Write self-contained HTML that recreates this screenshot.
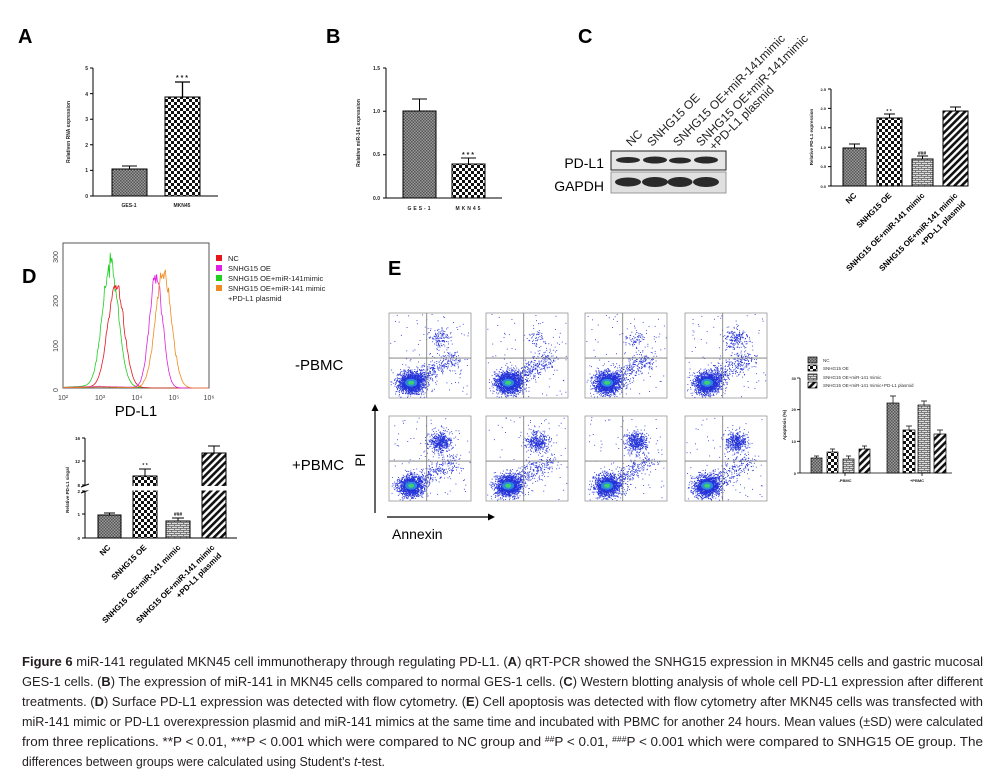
<!DOCTYPE html>
<html><head><meta charset="utf-8">
<style>
html,body{margin:0;padding:0;background:#fff;}
svg{display:block;}
text{font-family:"Liberation Sans",Arial,sans-serif;}
.cap{font-size:12.5px;fill:#231f20;}
.t{font-size:5px;font-weight:bold;fill:#222;}
.lab{font-size:20px;font-weight:bold;}
</style></head><body>
<svg id="s" width="1005" height="778" viewBox="0 0 1005 778" xmlns="http://www.w3.org/2000/svg">
<defs>
<pattern id="pg" width="3" height="3" patternUnits="userSpaceOnUse"><rect width="3" height="3" fill="#9a9a9a"/><rect width="1.5" height="1.5" fill="#555"/><rect x="1.5" y="1.5" width="1.5" height="1.5" fill="#555"/></pattern>
<pattern id="pc" width="6" height="6" patternUnits="userSpaceOnUse"><rect width="6" height="6" fill="#fff"/><rect width="3" height="3" fill="#111"/><rect x="3" y="3" width="3" height="3" fill="#111"/></pattern>
<pattern id="pb" width="6" height="4" patternUnits="userSpaceOnUse"><rect width="6" height="4" fill="#ddd"/><line x1="0" y1="0.5" x2="6" y2="0.5" stroke="#666" stroke-width="0.8"/><line x1="0.5" y1="0" x2="0.5" y2="2" stroke="#666" stroke-width="0.8"/><line x1="3.5" y1="2" x2="3.5" y2="4" stroke="#666" stroke-width="0.8"/><line x1="0" y1="2.5" x2="6" y2="2.5" stroke="#666" stroke-width="0.8"/></pattern>
<pattern id="pd" width="5" height="5" patternUnits="userSpaceOnUse" patternTransform="rotate(45)"><rect width="5" height="5" fill="#fff"/><rect width="2.6" height="5" fill="#111"/></pattern>
</defs>

<!-- A -->
<text x="18" y="43" class="lab">A</text>
<g stroke="#000" stroke-width="1" fill="none">
<line x1="93" y1="68" x2="93" y2="196"/><line x1="93" y1="196" x2="218" y2="196"/>
<path d="M90 68H93M90 93.6H93M90 119.2H93M90 144.8H93M90 170.4H93M90 196H93"/>
</g>
<g class="t" text-anchor="end"><text x="88" y="70">5</text><text x="88" y="96">4</text><text x="88" y="121">3</text><text x="88" y="147">2</text><text x="88" y="172">1</text><text x="88" y="198">0</text></g>
<text class="t" transform="translate(70,132) rotate(-90)" text-anchor="middle">Relativen RNA expression</text>
<rect x="112" y="169" width="35" height="27" fill="url(#pg)" stroke="#000"/>
<path d="M129.5 169V166M122 166H137" stroke="#000"/>
<rect x="165" y="97" width="35" height="99" fill="url(#pc)" stroke="#000"/>
<path d="M182.5 97V82M175 82H190" stroke="#000" stroke-width="1.3"/>
<text x="182" y="80" class="t" text-anchor="middle" style="font-size:7px">* * *</text>
<text x="129" y="207" class="t" text-anchor="middle">GES-1</text><text x="182" y="207" class="t" text-anchor="middle">MKN45</text>

<!-- B -->
<text x="326" y="43" class="lab">B</text>
<g stroke="#000" fill="none"><line x1="386" y1="68" x2="386" y2="198"/><line x1="386" y1="198" x2="502" y2="198"/>
<path d="M383 68H386M383 111.3H386M383 154.7H386M383 198H386"/></g>
<g class="t" text-anchor="end"><text x="380" y="70">1.5</text><text x="380" y="113">1.0</text><text x="380" y="156">0.5</text><text x="380" y="200">0.0</text></g>
<text class="t" transform="translate(360,133) rotate(-90)" text-anchor="middle">Relative miR-141 expression</text>
<rect x="403" y="111" width="33" height="87" fill="url(#pg)" stroke="#000"/>
<path d="M419.5 111V99M412 99H427" stroke="#000"/>
<rect x="452" y="164" width="33" height="34" fill="url(#pc)" stroke="#000"/>
<path d="M468.5 164V158M461 158H476" stroke="#000"/>
<text x="468" y="157" class="t" text-anchor="middle" style="font-size:7px">* * *</text>
<text x="420" y="210" class="t" text-anchor="middle" letter-spacing="2">GES-1</text><text x="469" y="210" class="t" text-anchor="middle" letter-spacing="2">MKN45</text>

<!-- C -->
<text x="578" y="43" class="lab">C</text>
<g font-size="12" fill="#222">
<text transform="translate(631,147) rotate(-45)">NC</text>
<text transform="translate(652,147) rotate(-45)">SNHG15 OE</text>
<text transform="translate(678,147) rotate(-45)">SNHG15 OE+miR-141mimic</text>
<text transform="translate(701,147) rotate(-45)">SNHG15 OE+miR-141mimic</text>
<text transform="translate(714,151) rotate(-45)">+PD-L1 plasmid</text>
</g>
<text x="604" y="168" font-size="14" text-anchor="end">PD-L1</text>
<text x="604" y="191" font-size="14" text-anchor="end">GAPDH</text>
<rect x="611" y="151" width="115" height="19" fill="#e6e6e6" stroke="#222"/>
<rect x="611" y="172" width="115" height="21" fill="#e0e0e0" stroke="#999"/>
<g fill="#2a2a2a"><ellipse cx="628" cy="160" rx="12" ry="3"/><ellipse cx="655" cy="160" rx="12" ry="3.5"/><ellipse cx="680" cy="160.5" rx="11" ry="3"/><ellipse cx="706" cy="160" rx="12" ry="3.5"/>
<ellipse cx="628" cy="182" rx="13" ry="4.5"/><ellipse cx="655" cy="182" rx="13" ry="5"/><ellipse cx="680" cy="182" rx="12.5" ry="5"/><ellipse cx="706" cy="182" rx="13" ry="5"/></g>
<g stroke="#000" fill="none"><line x1="831" y1="89" x2="831" y2="186"/><line x1="831" y1="186" x2="968" y2="186"/>
<path d="M828 89H831M828 108.4H831M828 127.8H831M828 147.2H831M828 166.6H831M828 186H831"/></g>
<g class="t" text-anchor="end" style="font-size:4px"><text x="826" y="91">2.5</text><text x="826" y="110">2.0</text><text x="826" y="129">1.5</text><text x="826" y="149">1.0</text><text x="826" y="168">0.5</text><text x="826" y="188">0.0</text></g>
<text class="t" transform="translate(813,137) rotate(-90)" text-anchor="middle" style="font-size:4.5px">Relative PD-L1 expression</text>
<rect x="843" y="148" width="23" height="38" fill="url(#pg)" stroke="#000"/><path d="M854.5 148V144M849 144H860" stroke="#000"/>
<rect x="877" y="118" width="25" height="68" fill="url(#pc)" stroke="#000"/><path d="M889.5 118V114M884 114H895" stroke="#000"/>
<text x="889" y="113" class="t" text-anchor="middle">* *</text>
<rect x="912" y="159" width="21" height="27" fill="url(#pb)" stroke="#000"/><path d="M922.5 159V156M917 156H928" stroke="#000"/>
<text x="922" y="155" class="t" text-anchor="middle">###</text>
<rect x="943" y="111" width="25" height="75" fill="url(#pd)" stroke="#000"/><path d="M955.5 111V107M950 107H961" stroke="#000"/>
<g font-size="8" font-weight="bold" text-anchor="end">
<text transform="translate(857,196) rotate(-45)">NC</text>
<text transform="translate(892,196) rotate(-45)">SNHG15 OE</text>
<text transform="translate(925,196) rotate(-45)">SNHG15 OE+miR-141 mimic</text>
<text transform="translate(958,196) rotate(-45)">SNHG15 OE+miR-141 mimic</text>
<text transform="translate(966,204) rotate(-45)">+PD-L1 plasmid</text>
</g>

<!-- D -->
<text x="22" y="283" class="lab">D</text>
<rect x="63" y="243" width="146" height="145" fill="none" stroke="#555"/>
<g id="hist"></g>
<g font-size="7" fill="#444">
<text transform="translate(58,257) rotate(-90)" text-anchor="middle">300</text>
<text transform="translate(58,301) rotate(-90)" text-anchor="middle">200</text>
<text transform="translate(58,346) rotate(-90)" text-anchor="middle">100</text>
<text transform="translate(58,390) rotate(-90)" text-anchor="middle">0</text>
<text x="63" y="400" text-anchor="middle">10²</text><text x="100" y="400" text-anchor="middle">10³</text><text x="137" y="400" text-anchor="middle">10⁴</text><text x="174" y="400" text-anchor="middle">10⁵</text><text x="209" y="400" text-anchor="middle">10⁶</text>
</g>
<text x="136" y="416" font-size="15" text-anchor="middle">PD-L1</text>
<rect x="216" y="255" width="6" height="6" fill="#e8141b"/><rect x="216" y="265" width="6" height="6" fill="#e020e0"/><rect x="216" y="275" width="6" height="6" fill="#20d020"/><rect x="216" y="285" width="6" height="6" fill="#f08a20"/>
<g font-size="7.5" fill="#222"><text x="228" y="261">NC</text><text x="228" y="271">SNHG15 OE</text><text x="228" y="281">SNHG15 OE+miR-141mimic</text><text x="228" y="291">SNHG15 OE+miR-141 mimic</text><text x="228" y="301">+PD-L1 plasmid</text></g>

<g stroke="#000" fill="none"><line x1="85" y1="438" x2="85" y2="485"/><line x1="85" y1="491" x2="85" y2="538"/><line x1="85" y1="538" x2="237" y2="538"/>
<path d="M82 438H85M82 461H85M82 485H85M82 491H85M82 514H85M82 538H85M81 487L89 484M81 493L89 490"/></g>
<g class="t" text-anchor="end" style="font-size:4.5px"><text x="80" y="440">16</text><text x="80" y="463">12</text><text x="80" y="487">8</text><text x="80" y="493">2</text><text x="80" y="516">1</text><text x="80" y="540">0</text></g>
<text class="t" transform="translate(69,490) rotate(-90)" text-anchor="middle" style="font-size:4.5px">Relative PD-L1 singal</text>
<rect x="98" y="515" width="23" height="23" fill="url(#pg)" stroke="#000"/><path d="M109.5 515V513M104 513H115" stroke="#000"/>
<rect x="133" y="476" width="24" height="62" fill="url(#pc)" stroke="#000"/><path d="M145 476V469M139 469H151" stroke="#000"/><text x="145" y="467" class="t" text-anchor="middle">* *</text>
<rect x="166" y="521" width="24" height="17" fill="url(#pb)" stroke="#000"/><path d="M178 521V518M172 518H184" stroke="#000"/><text x="178" y="516" class="t" text-anchor="middle">###</text>
<rect x="202" y="453" width="24" height="85" fill="url(#pd)" stroke="#000"/><path d="M214 453V446M208 446H220" stroke="#000"/>
<rect x="86" y="486" width="150" height="4.5" fill="#fff"/>
<g font-size="8" font-weight="bold" text-anchor="end">
<text transform="translate(111,548) rotate(-45)">NC</text>
<text transform="translate(147,548) rotate(-45)">SNHG15 OE</text>
<text transform="translate(181,548) rotate(-45)">SNHG15 OE+miR-141 mimic</text>
<text transform="translate(215,548) rotate(-45)">SNHG15 OE+miR-141 mimic</text>
<text transform="translate(222,556) rotate(-45)">+PD-L1 plasmid</text>
</g>

<text x="295" y="370" font-size="15">-PBMC</text>
<text x="292" y="470" font-size="15">+PBMC</text>

<!-- E -->
<text x="388" y="275" class="lab">E</text>
<g id="flow"></g>
<path d="M375 513V410" stroke="#000" stroke-width="1.2"/><path d="M371.5 411L375 404L378.5 411Z"/>
<path d="M387 517H489" stroke="#000" stroke-width="1.2"/><path d="M488 513.5L495 517L488 520.5Z"/>
<text transform="translate(365,460) rotate(-90)" font-size="14" text-anchor="middle">PI</text>
<text x="392" y="539" font-size="14">Annexin</text>

<g stroke="#000" fill="none" stroke-width="0.8"><line x1="800" y1="378" x2="800" y2="473"/><line x1="800" y1="473" x2="952" y2="473"/>
<path d="M797 378H800M797 409.7H800M797 441.3H800M797 473H800M845 473V476M922 473V476"/></g>
<g class="t" text-anchor="end" style="font-size:4px"><text x="796" y="380">30</text><text x="796" y="411">20</text><text x="796" y="443">10</text><text x="796" y="475">0</text></g>
<text class="t" transform="translate(786,425) rotate(-90)" text-anchor="middle" style="font-size:4.5px">Apoptosis (%)</text>
<g stroke="#000" stroke-width="0.7">
<rect x="811" y="458" width="11" height="15" fill="url(#pg)"/><path d="M816.5 458V456M814 456H819"/>
<rect x="827" y="452" width="11" height="21" fill="url(#pc)"/><path d="M832.5 452V449M830 449H835"/>
<rect x="843" y="459" width="11" height="14" fill="url(#pb)"/><path d="M848.5 459V456M846 456H851"/>
<rect x="859" y="449" width="11" height="24" fill="url(#pd)"/><path d="M864.5 449V446M862 446H867"/>
<rect x="887" y="403" width="12" height="70" fill="url(#pg)"/><path d="M893 403V396M890 396H896"/>
<rect x="903" y="430" width="12" height="43" fill="url(#pc)"/><path d="M909 430V426M906 426H912"/>
<rect x="918" y="405" width="12" height="68" fill="url(#pb)"/><path d="M924 405V401M921 401H927"/>
<rect x="934" y="434" width="12" height="39" fill="url(#pd)"/><path d="M940 434V430M937 430H943"/>
<rect x="808" y="357" width="9" height="6" fill="url(#pg)"/><rect x="808" y="365" width="9" height="6" fill="url(#pc)"/><rect x="808" y="374" width="9" height="6" fill="url(#pb)"/><rect x="808" y="382" width="9" height="6" fill="url(#pd)"/>
</g>
<g font-size="4.5" fill="#333"><text x="823" y="362">NC</text><text x="823" y="370">SNHG15 OE</text><text x="823" y="379">SNHG15 OE+miR-141 mimic</text><text x="823" y="387">SNHG15 OE+miR-141 mimic+PD-L1 plasmid</text></g>
<text x="845" y="482" class="t" text-anchor="middle" style="font-size:4px">-PBMC</text><text x="917" y="482" class="t" text-anchor="middle" style="font-size:4px">+PBMC</text>

<!-- Caption -->
<g class="cap">
<text x="22" y="666" textLength="961" lengthAdjust="spacingAndGlyphs"><tspan font-weight="bold">Figure 6</tspan> miR-141 regulated MKN45 cell immunotherapy through regulating PD-L1. (<tspan font-weight="bold">A</tspan>) qRT-PCR showed the SNHG15 expression in MKN45 cells and gastric mucosal</text>
<text x="22" y="686" textLength="961" lengthAdjust="spacingAndGlyphs">GES-1 cells. (<tspan font-weight="bold">B</tspan>) The expression of miR-141 in MKN45 cells compared to normal GES-1 cells. (<tspan font-weight="bold">C</tspan>) Western blotting analysis of whole cell PD-L1 expression after different</text>
<text x="22" y="706" textLength="961" lengthAdjust="spacingAndGlyphs">treatments. (<tspan font-weight="bold">D</tspan>) Surface PD-L1 expression was detected with flow cytometry. (<tspan font-weight="bold">E</tspan>) Cell apoptosis was detected with flow cytometry after MKN45 cells was transfected with</text>
<text x="22" y="726" textLength="961" lengthAdjust="spacingAndGlyphs">miR-141 mimic or PD-L1 overexpression plasmid and miR-141 mimics at the same time and incubated with PBMC for another 24 hours. Mean values (±SD) were calculated</text>
<text x="22" y="746" textLength="961" lengthAdjust="spacingAndGlyphs">from three replications. **P &lt; 0.01, ***P &lt; 0.001 which were compared to NC group and <tspan font-size="8" dy="-4">##</tspan><tspan dy="4">P &lt; 0.01, </tspan><tspan font-size="8" dy="-4">###</tspan><tspan dy="4">P &lt; 0.001 which were compared to SNHG15 OE group. The</tspan></text>
<text x="22" y="766" textLength="363" lengthAdjust="spacingAndGlyphs">differences between groups were calculated using Student's <tspan font-style="italic">t</tspan>-test.</text>
</g>
</svg>
<script>
(function(){
var NS="http://www.w3.org/2000/svg";
var seed=7;function r(){seed=(seed*16807)%2147483647;return (seed-1)/2147483646;}
function g(){var u=r()||1e-9,v=r();return Math.sqrt(-2*Math.log(u))*Math.cos(2*Math.PI*v);}
function el(t,a,p){var e=document.createElementNS(NS,t);for(var k in a)e.setAttribute(k,a[k]);p.appendChild(e);return e;}
var H=document.getElementById('hist');
var curves=[["#20d020",3.3,0.22,265,0.04],["#e8141b",3.45,0.22,230,0.02],["#e020e0",4.55,0.18,250,0.03],["#f08a20",4.75,0.22,255,0.02]];
curves.forEach(function(c){var d="";for(var x=63;x<=209;x+=0.8){var L=2+(x-63)/36.5;var v=c[3]*Math.exp(-Math.pow(L-c[1],2)/(2*c[2]*c[2]));v+=c[3]*c[4]*Math.max(0,1-Math.abs(L-3)/1.5)*0.5;v*=1+0.04*g();if(v<0)v=0;var y=388-v*0.45;d+=(d?"L":"M")+x.toFixed(1)+" "+y.toFixed(1);}el('path',{d:d,fill:"none",stroke:c[0],"stroke-width":0.8},H);});
var F=document.getElementById('flow');
var cols=[389,486,585,685],rows=[313,416],W=82,Hh=85;
var up=[[0.06,0.03,0.03,0.08],[0.25,0.18,0.22,0.2]];
for(var ri=0;ri<2;ri++)for(var ci=0;ci<4;ci++){
 var x0=cols[ci],y0=rows[ri];
 var gq=el('g',{},F);
 el('rect',{x:x0,y:y0,width:W,height:Hh,fill:"#fff",stroke:"#888","stroke-width":0.7},gq);
 var n=2200;
 for(var i=0;i<n;i++){var px,py,isUp=r()<up[ri][ci];
  if(isUp){px=x0+W*0.62+g()*6;py=y0+Hh*0.3+g()*5;}
  else if(r()<0.18){var t=r();px=x0+W*(0.25+0.55*t)+g()*5;py=y0+Hh*(0.82-0.3*t)+g()*5;}
  else {px=x0+W*0.27+g()*6.5;py=y0+Hh*0.82+g()*5.5;}
  if(r()<0.04){px=x0+r()*W;py=y0+r()*Hh;}
  if(px<x0+1||px>x0+W-1||py<y0+1||py>y0+Hh-1)continue;
  el('rect',{x:px.toFixed(1),y:py.toFixed(1),width:0.9,height:0.9,fill:"#2432d8"},gq);}
 el('ellipse',{cx:x0+W*0.27,cy:y0+Hh*0.82,rx:6,ry:4,fill:"#2fa0e0",opacity:0.8},gq);
 el('ellipse',{cx:x0+W*0.27,cy:y0+Hh*0.82,rx:3,ry:2,fill:"#40d070"},gq);
 el('line',{x1:x0+W*0.46,y1:y0,x2:x0+W*0.46,y2:y0+Hh,stroke:"#777","stroke-width":0.8},gq);
 el('line',{x1:x0,y1:y0+Hh*0.53,x2:x0+W,y2:y0+Hh*0.53,stroke:"#777","stroke-width":0.8},gq);
}
})();
</script>
</body></html>
